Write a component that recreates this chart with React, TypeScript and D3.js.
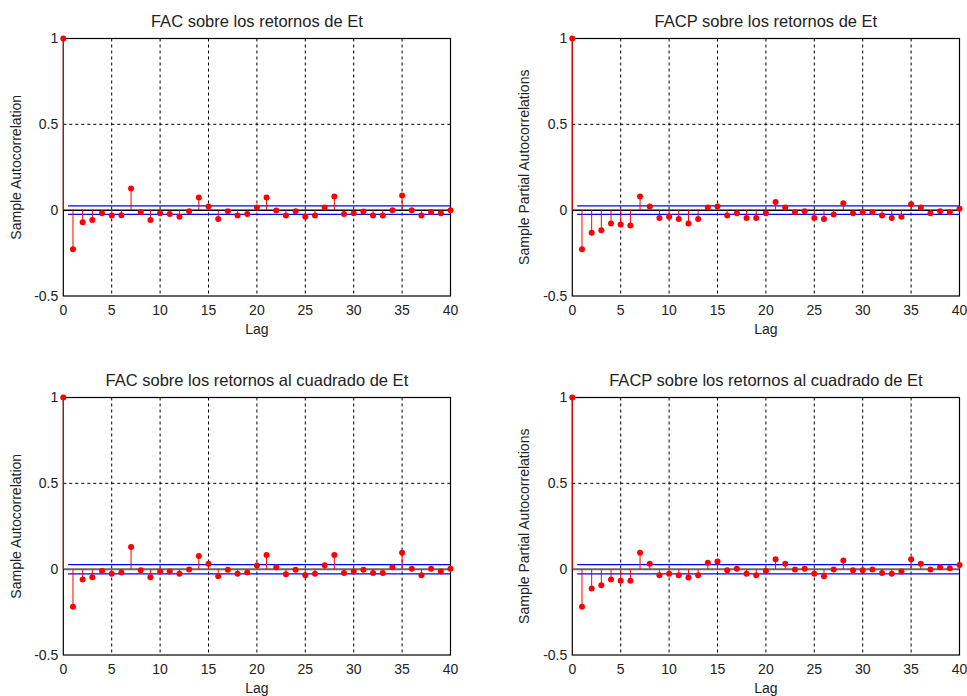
import React, { useEffect, useRef } from 'react';
import * as d3 from 'd3';

const LAGS = d3.range(0, 41);
const X_TICKS = [0, 5, 10, 15, 20, 25, 30, 35, 40];
const Y_TICKS = [-0.5, 0, 0.5, 1];

// values, lag 0..40
const facRet = [
  1, -0.228, -0.07, -0.057, -0.018, -0.031, -0.029, 0.126, -0.012, -0.058, -0.018,
  -0.023, -0.039, -0.006, 0.074, 0.021, -0.051, -0.006, -0.031, -0.023, 0.015,
  0.074, -0.002, -0.031, -0.006, -0.039, -0.031, 0.015, 0.08, -0.023, -0.018,
  -0.008, -0.031, -0.031, 0.0, 0.085, 0.0, -0.031, -0.01, -0.018, 0.0,
];
const facpRet = [
  1, -0.228, -0.131, -0.117, -0.078, -0.084, -0.09, 0.08, 0.021, -0.045, -0.039,
  -0.051, -0.078, -0.051, 0.015, 0.021, -0.031, -0.018, -0.045, -0.045, -0.018,
  0.047, 0.015, -0.012, -0.006, -0.045, -0.051, -0.025, 0.041, -0.018, -0.012,
  -0.012, -0.031, -0.045, -0.039, 0.035, 0.015, -0.018, -0.006, -0.012, 0.008,
];
const facSq = [
  1, -0.219, -0.06, -0.047, -0.01, -0.026, -0.02, 0.129, -0.006, -0.047, -0.014,
  -0.014, -0.027, -0.002, 0.077, 0.031, -0.041, -0.004, -0.027, -0.02, 0.021,
  0.083, 0.011, -0.029, -0.004, -0.035, -0.027, 0.023, 0.083, -0.022, -0.014,
  -0.004, -0.022, -0.022, 0.011, 0.096, 0.003, -0.035, 0.003, -0.014, 0.003,
];
const facpSq = [
  1, -0.219, -0.113, -0.093, -0.06, -0.068, -0.068, 0.096, 0.031, -0.035, -0.027,
  -0.035, -0.049, -0.035, 0.038, 0.044, -0.006, 0.003, -0.027, -0.035, -0.01,
  0.058, 0.031, -0.002, 0.003, -0.027, -0.041, -0.002, 0.05, -0.006, -0.006,
  -0.002, -0.022, -0.027, -0.014, 0.058, 0.031, -0.002, 0.011, 0.005, 0.025,
];

const PANELS = [
  { title: 'FAC sobre los retornos de Et', ylabel: 'Sample Autocorrelation', values: facRet, bound: 0.025, left: 63.3, top: 38.5, zeroColor: '#000', zeroWidth: 1.5, labelX: 17 },
  { title: 'FACP sobre los retornos de Et', ylabel: 'Sample Partial Autocorrelations', values: facpRet, bound: 0.025, left: 572.3, top: 38.5, zeroColor: '#000', zeroWidth: 1.5, labelX: 525 },
  { title: 'FAC sobre los retornos al cuadrado de Et', ylabel: 'Sample Autocorrelation', values: facSq, bound: 0.027, left: 63.3, top: 397.5, zeroColor: '#666', zeroWidth: 2, labelX: 17 },
  { title: 'FACP sobre los retornos al cuadrado de Et', ylabel: 'Sample Partial Autocorrelations', values: facpSq, bound: 0.027, left: 572.3, top: 397.5, zeroColor: '#666', zeroWidth: 2, labelX: 525 },
];

const W = 387.2;
const H = 257.5;
const FONT = '"Liberation Sans", Arial, sans-serif';

const App = () => {
  const ref = useRef<SVGSVGElement | null>(null);

  useEffect(() => {
    const svg = d3.select(ref.current);
    svg.selectAll('*').remove();

    PANELS.forEach((p) => {
      const g = svg.append('g').attr('transform', `translate(${p.left},${p.top})`);
      const x = d3.scaleLinear().domain([0, 40]).range([0, W]);
      const y = d3.scaleLinear().domain([-0.5, 1]).range([H, 0]);

      // grid
      g.selectAll('.vgrid')
        .data(X_TICKS.slice(1, -1))
        .enter()
        .append('line')
        .attr('x1', (d) => x(d))
        .attr('x2', (d) => x(d))
        .attr('y1', 0)
        .attr('y2', H)
        .attr('stroke', '#000')
        .attr('stroke-width', 1)
        .attr('stroke-dasharray', '3,3');
      g.selectAll('.hgrid')
        .data([0.5])
        .enter()
        .append('line')
        .attr('x1', 0)
        .attr('x2', W)
        .attr('y1', (d) => y(d))
        .attr('y2', (d) => y(d))
        .attr('stroke', '#000')
        .attr('stroke-width', 1)
        .attr('stroke-dasharray', '3,3');

      // confidence bounds
      [p.bound, -p.bound].forEach((b) => {
        g.append('line')
          .attr('x1', x(0.5))
          .attr('x2', x(40))
          .attr('y1', y(b))
          .attr('y2', y(b))
          .attr('stroke', '#0000ff')
          .attr('stroke-width', 1.2);
      });

      // zero line
      g.append('line')
        .attr('x1', 0)
        .attr('x2', W)
        .attr('y1', y(0))
        .attr('y2', y(0))
        .attr('stroke', p.zeroColor)
        .attr('stroke-width', p.zeroWidth);

      // box
      g.append('rect')
        .attr('x', 0)
        .attr('y', 0)
        .attr('width', W)
        .attr('height', H)
        .attr('fill', 'none')
        .attr('stroke', '#000')
        .attr('stroke-width', 1.2);

      // stems
      g.selectAll('.stem')
        .data(LAGS)
        .enter()
        .append('line')
        .attr('x1', (d) => x(d))
        .attr('x2', (d) => x(d))
        .attr('y1', y(0))
        .attr('y2', (d) => y(p.values[d]))
        .attr('stroke', '#ff0000')
        .attr('stroke-width', 1);
      g.selectAll('.dot')
        .data(LAGS)
        .enter()
        .append('circle')
        .attr('cx', (d) => x(d))
        .attr('cy', (d) => y(p.values[d]))
        .attr('r', 3)
        .attr('fill', '#ff0000');

      // tick labels
      g.selectAll('.xt')
        .data(X_TICKS)
        .enter()
        .append('text')
        .attr('x', (d) => x(d))
        .attr('y', H + 19)
        .attr('text-anchor', 'middle')
        .attr('font-family', FONT)
        .attr('font-size', 14)
        .attr('fill', '#222')
        .text((d) => d);
      g.selectAll('.yt')
        .data(Y_TICKS)
        .enter()
        .append('text')
        .attr('x', -5)
        .attr('y', (d) => y(d))
        .attr('dy', '0.35em')
        .attr('text-anchor', 'end')
        .attr('font-family', FONT)
        .attr('font-size', 14)
        .attr('fill', '#222')
        .text((d) => d);

      // labels
      g.append('text')
        .attr('x', W / 2)
        .attr('y', -11.5)
        .attr('text-anchor', 'middle')
        .attr('font-family', FONT)
        .attr('font-size', 16.5)
        .attr('fill', '#222')
        .text(p.title);
      g.append('text')
        .attr('x', W / 2)
        .attr('y', H + 38)
        .attr('text-anchor', 'middle')
        .attr('font-family', FONT)
        .attr('font-size', 14)
        .attr('fill', '#222')
        .text('Lag');
      svg.append('text')
        .attr('transform', `translate(${p.labelX + 4},${p.top + H / 2}) rotate(-90)`)
        .attr('text-anchor', 'middle')
        .attr('font-family', FONT)
        .attr('font-size', 14)
        .attr('fill', '#222')
        .text(p.ylabel);
    });
  }, []);

  return (
    <svg
      ref={ref}
      width={967}
      height={696}
      style={{ position: 'absolute', left: 0, top: 0, background: '#fff' }}
    />
  );
};

export default App;
